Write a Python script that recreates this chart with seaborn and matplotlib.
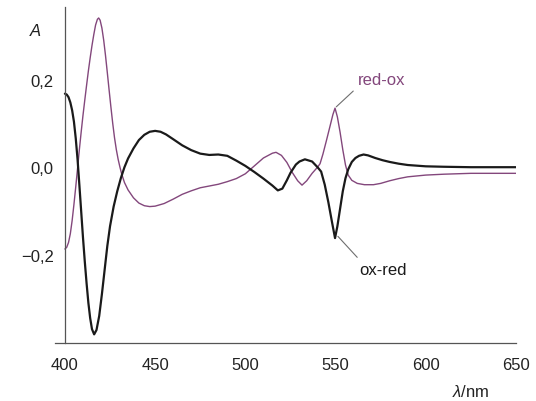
import matplotlib
matplotlib.use("Agg")
import matplotlib.pyplot as plt
import pandas as pd
import seaborn as sns

# Difference spectra (absorbance vs. wavelength)
ox_red_nm = [400, 401, 402, 403, 404, 405, 406, 407, 408, 409, 410, 411, 412, 413, 414, 415,
             416.2, 417.5, 419, 420.5, 422, 423.5, 425, 427, 429, 431, 433, 435, 438, 441, 444,
             447, 450, 453, 456, 460, 465, 470, 475, 480, 485, 490, 495, 500, 505, 510, 515,
             518, 520.5, 523, 525, 528, 530, 533, 537, 540, 542, 544, 546, 548, 549.7, 551,
             552.5, 554, 555.5, 557, 559, 561, 563, 565.5, 568, 572, 576, 580, 585, 590, 600,
             610, 625, 650]
ox_red_abs = [0.168, 0.166, 0.16, 0.148, 0.13, 0.104, 0.066, 0.018, -0.04, -0.1, -0.16, -0.215,
              -0.265, -0.31, -0.345, -0.37, -0.382, -0.372, -0.34, -0.29, -0.235, -0.18, -0.135,
              -0.09, -0.055, -0.025, 0.0, 0.02, 0.043, 0.062, 0.074, 0.081, 0.083, 0.081, 0.075,
              0.064, 0.05, 0.039, 0.031, 0.028, 0.029, 0.026, 0.015, 0.003, -0.011, -0.026,
              -0.042, -0.053, -0.049, -0.03, -0.013, 0.006, 0.013, 0.018, 0.013, 0.0, -0.01,
              -0.04, -0.08, -0.125, -0.162, -0.135, -0.095, -0.055, -0.025, -0.005, 0.012,
              0.021, 0.026, 0.029, 0.027, 0.021, 0.016, 0.012, 0.008, 0.005, 0.002, 0.001,
              0.0, 0.0]

red_ox_nm = [400, 401, 402, 403, 404, 405, 406, 407, 408, 409, 410, 411, 412, 413, 414, 415,
             416, 417, 418, 418.7, 419.5, 420.5, 421.5, 422.5, 423.5, 424.5, 425.5, 426.5,
             427.5, 428.5, 429.5, 430.5, 431.5, 433, 435, 438, 441, 444, 447, 450, 455, 460,
             465, 470, 475, 480, 485, 490, 495, 500, 505, 510, 515, 517, 520, 523, 526, 529,
             531.4, 534, 537, 540, 541.4, 543, 545, 547, 548.5, 549.7, 551, 552.5, 554, 555.5,
             557, 559, 562, 566, 571, 575, 580, 585, 590, 600, 610, 625, 650]
red_ox_abs = [-0.187, -0.183, -0.172, -0.152, -0.122, -0.085, -0.045, -0.003, 0.04, 0.08,
              0.118, 0.153, 0.187, 0.22, 0.25, 0.278, 0.303, 0.325, 0.338, 0.341, 0.336, 0.318,
              0.29, 0.255, 0.216, 0.176, 0.137, 0.1, 0.067, 0.04, 0.018, 0.0, -0.016, -0.035,
              -0.052, -0.07, -0.082, -0.088, -0.09, -0.089, -0.083, -0.073, -0.062, -0.054,
              -0.047, -0.043, -0.039, -0.033, -0.026, -0.015, 0.003, 0.021, 0.032, 0.034,
              0.027, 0.011, -0.012, -0.031, -0.041, -0.031, -0.014, 0.0, 0.008, 0.03, 0.062,
              0.095, 0.12, 0.135, 0.115, 0.08, 0.04, 0.005, -0.018, -0.03, -0.037, -0.04,
              -0.04, -0.037, -0.031, -0.026, -0.022, -0.018, -0.016, -0.014, -0.014]

x_ticks = [400, 450, 500, 550, 600, 650]
y_ticks = [-0.2, 0.0, 0.2]
y_tick_labels = ["\u22120,2", "0,0", "0,2"]

BLACK = "#1a1a1a"
MAUVE = "#83477c"
AXIS = "#555555"

sns.set_style("white")
plt.rcParams["font.family"] = ["Liberation Sans", "DejaVu Sans"]
plt.rcParams["mathtext.fontset"] = "custom"
plt.rcParams["mathtext.it"] = "Liberation Sans:italic"
plt.rcParams["mathtext.rm"] = "Liberation Sans"

fig = plt.figure(figsize=(5.36, 4.02), dpi=100)
ax = fig.add_axes([0.1026, 0.144, 0.8601, 0.836])

ox_red = pd.DataFrame({"nm": ox_red_nm, "A": ox_red_abs})
red_ox = pd.DataFrame({"nm": red_ox_nm, "A": red_ox_abs})

sns.lineplot(data=red_ox, x="nm", y="A", ax=ax, color=MAUVE, linewidth=1.0,
             estimator=None, sort=False)
sns.lineplot(data=ox_red, x="nm", y="A", ax=ax, color=BLACK, linewidth=1.6,
             estimator=None, sort=False)

ax.set_xlim(394.5, 650)
ax.set_ylim(-0.402, 0.366)

for side in ("top", "right"):
    ax.spines[side].set_visible(False)
ax.spines["left"].set_position(("data", 400))
for side in ("left", "bottom"):
    ax.spines[side].set_color(AXIS)
    ax.spines[side].set_linewidth(0.9)

ax.set_xticks(x_ticks)
ax.set_xticklabels([str(t) for t in x_ticks])
ax.set_yticks(y_ticks)
ax.set_yticklabels(y_tick_labels)
ax.tick_params(axis="x", direction="out", length=7, width=0.9, color=AXIS,
               labelsize=12, pad=3, labelcolor="#222222")
ax.tick_params(axis="y", direction="out", length=5, width=0.9, color=AXIS,
               labelsize=12, pad=3, labelcolor="#222222")
ax.set_xlabel("")
ax.set_ylabel("")

# Curve labels with leader lines
ax.plot([550.4, 559.8], [0.138, 0.174], color="#6e6e6e", linewidth=0.8)
ax.text(575.7, 0.2, "red-ox", color=MAUVE, fontsize=12, ha="center", va="center")
ax.plot([551.3, 562.0], [-0.158, -0.206], color="#6e6e6e", linewidth=0.8)
ax.text(576.3, -0.233, "ox-red", color=BLACK, fontsize=12, ha="center", va="center")

# Axis titles
fig.text(0.066, 0.922, "A", fontsize=12, style="italic", ha="center", va="center",
         color="#222222")
fig.text(0.879, 0.026, r"$\mathit{\lambda}$/nm", fontsize=12, ha="center", va="center",
         color="#222222")

fig.savefig("out.png", dpi=100, facecolor="white")
